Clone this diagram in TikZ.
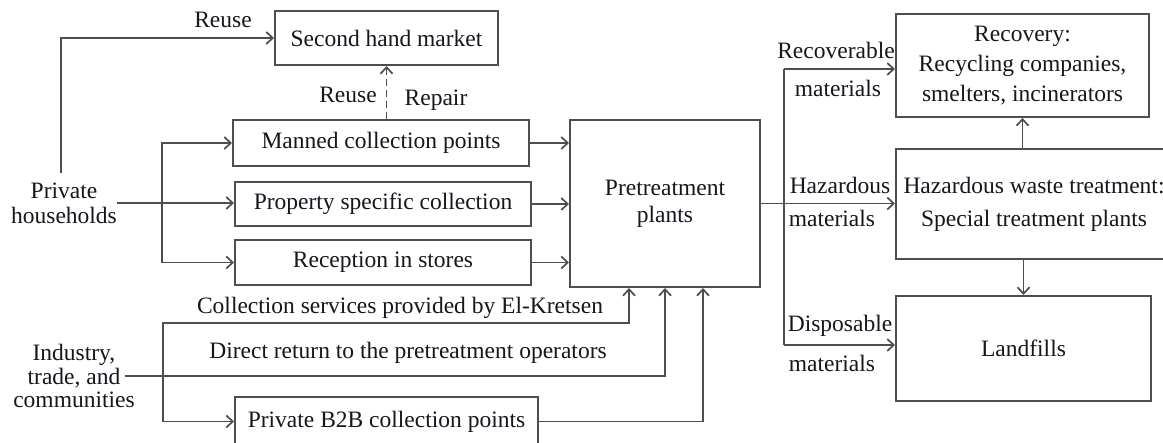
\documentclass[tikz,border=0pt]{standalone}
\usepackage{fontspec}
\setmainfont{Liberation Serif}
\usetikzlibrary{arrows.meta}
\definecolor{linec}{RGB}{78,78,78}
\definecolor{textc}{RGB}{22,22,30}
\begin{document}
\begin{tikzpicture}[x=1pt,y=-1pt,
  box/.style={draw=linec, line width=2pt, inner sep=0pt, text=textc, align=center,
              font=\fontsize{23.5}{25}\selectfont},
  txt/.style={text=textc, inner sep=0pt, align=center, font=\fontsize{23.5}{25}\selectfont},
  ln/.style={draw=linec, line width=1.9pt},
  arr/.style={draw=linec, line width=1.9pt, -{Straight Barb[length=6.5pt,width=12pt,line width=1.7pt]}}]
\clip (0,0) rectangle (1163,443);
\fill[white] (0,0) rectangle (1163,443);

% boxes
\node[box, minimum width=223pt, minimum height=54pt] (sh) at (386.5,38) {Second hand market};
\node[box, minimum width=296pt, minimum height=46pt] (man) at (381,143) {Manned collection points};
\node[box, minimum width=296pt, minimum height=44pt] (prop) at (383,204) {Property specific collection};
\node[box, minimum width=296pt, minimum height=45pt] (rec) at (383,262.5) {Reception in stores};
\node[box, minimum width=303pt, minimum height=49pt] (b2b) at (386.5,421.5) {Private B2B collection points};
\node[box, minimum width=190pt, minimum height=167pt, font=\fontsize{23.5}{27}\selectfont] (pre) at (665,203.5) {Pretreatment\\plants};
\node[box, minimum width=253pt, minimum height=103pt, font=\fontsize{23.5}{30}\selectfont] (recov) at (1022.5,65.5) {Recovery:\\Recycling companies,\\smelters, incinerators};
\node[box, minimum width=276pt, minimum height=110pt, font=\fontsize{23.5}{33}\selectfont] (haz) at (1034,204) {Hazardous waste treatment:\\Special treatment plants};
\node[box, minimum width=255pt, minimum height=105pt] (land) at (1023.5,348.5) {Landfills};

% sources
\node[txt] (ph) at (64,203) {Private\\households};
\node[txt, font=\fontsize{23.5}{23.5}\selectfont] (ind) at (74,376) {Industry,\\trade, and\\communities};

% labels
\node[txt] (lreuse1) at (223,20) {Reuse};
\node[txt] (lreuse2) at (348,95) {Reuse};
\node[txt] (lrepair) at (436,100) {Repair};
\node[txt] (lcoll) at (400,308) {Collection services provided by El-Kretsen};
\node[txt] (ldir) at (408,353) {Direct return to the pretreatment operators};
\node[txt] (lrec1) at (836,50) {Recoverable};
\node[txt] (lrec2) at (838,88) {materials};
\node[txt] (lhaz1) at (840,185) {Hazardous};
\node[txt] (lhaz2) at (832,218) {materials};
\node[txt] (ldis1) at (840,326) {Disposable};
\node[txt] (ldis2) at (832,363) {materials};

% coordinates
\coordinate (phtop) at (61,173);
\coordinate (phb) at (162,203);
\coordinate (ib) at (163,375);
\coordinate (yc) at (0,323);
\coordinate (pa) at ([xshift=-36pt]pre.south);
\coordinate (pc) at ([xshift=38pt]pre.south);
\coordinate (dt) at (784,69);
\coordinate (db) at (784,345);

% private households
\draw[arr] (phtop) |- (sh.west);
\draw[arr] (ph.east) -- (ph.east -| prop.west);
\draw[arr] (phb) |- (man.west);
\draw[arr] (phb) |- (rec.west);
\draw[arr, dash pattern=on 7pt off 4pt] (sh.south |- man.north) -- (sh.south);

% to pretreatment
\draw[arr] (man.east) -- (man.east -| pre.west);
\draw[arr] (prop.east) -- (prop.east -| pre.west);
\draw[arr] (rec.east) -- (rec.east -| pre.west);

% industry
\draw[arr] ([xshift=-10pt]ind.east) -| (pre.south);
\draw[arr] (ib) |- (pa |- yc) -- (pa);
\draw[arr] (ib) |- (b2b.west);
\draw[arr] (b2b.east) -| (pc);

% outputs
\draw[arr] (pre.east) -- (pre.east -| haz.west);
\draw[ln] (dt) -- (db);
\draw[arr] (dt) -- (dt -| recov.west);
\draw[arr] (db) -- (db -| land.west);
\draw[arr] (recov.south |- haz.north) -- (recov.south);
\draw[arr] (land.north |- haz.south) -- (land.north);
\end{tikzpicture}
\end{document}
